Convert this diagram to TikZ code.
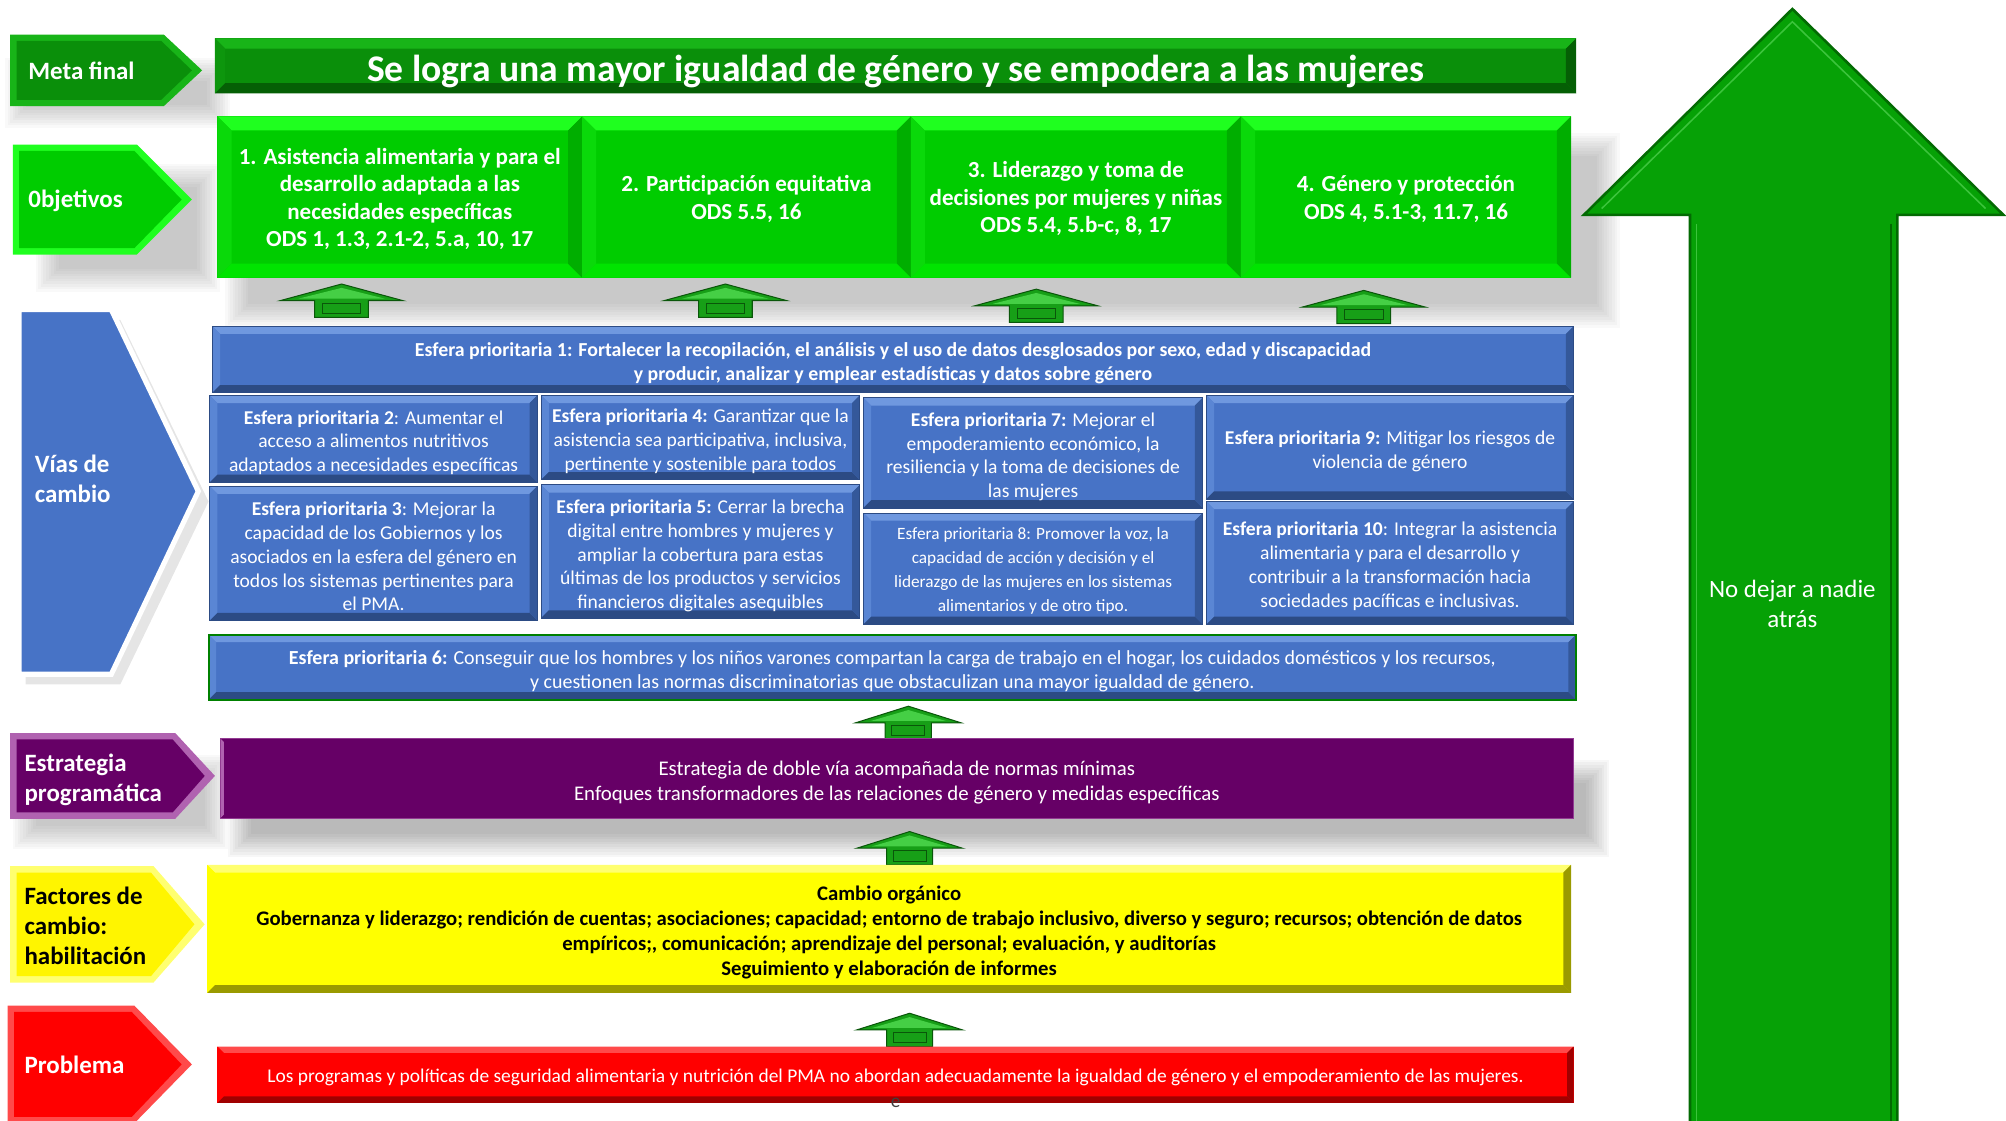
\documentclass[tikz,border=0pt]{standalone}
\usepackage{fontspec}
\setmainfont{Carlito}
\definecolor{dg}{HTML}{0A8F0A}
\definecolor{dgl}{HTML}{18B418}
\definecolor{dgd}{HTML}{055F05}
\definecolor{bg}{HTML}{00CC00}
\definecolor{bgl}{HTML}{1FFF1F}
\definecolor{bgb}{HTML}{00E400}
\definecolor{bgs}{HTML}{0AD90A}
\definecolor{bgr}{HTML}{00AE00}
\definecolor{bl}{HTML}{4773C6}
\definecolor{bll}{HTML}{6F98DF}
\definecolor{bls}{HTML}{5A86D4}
\definecolor{blr}{HTML}{34589A}
\definecolor{bld}{HTML}{2C4B84}
\definecolor{pu}{HTML}{660066}
\definecolor{pul}{HTML}{B062B0}
\definecolor{ye}{HTML}{FFFF00}
\definecolor{yel}{HTML}{FFFF70}
\definecolor{yed}{HTML}{9A9A00}
\definecolor{rd}{HTML}{FF0000}
\definecolor{rdl}{HTML}{FF4A4A}
\definecolor{rdd}{HTML}{A00000}
\definecolor{bigg}{HTML}{06A106}
\definecolor{biggd}{HTML}{036A03}
\definecolor{biggl}{HTML}{3CC43C}
\definecolor{ag}{HTML}{179F17}
\definecolor{agl}{HTML}{45CF45}
\definecolor{agd}{HTML}{0A560A}
\newcommand\lblarrow[7]{%
  \fill[#6] (#1,#2) -- (#3,#2) -- (#4,{(#2+#5)/2}) -- (#3,#5) -- (#1,#5) -- cycle;
  \fill[#7] (#1+5,#2+5) -- (#3-2,#2+5) -- (#4-8,{(#2+#5)/2}) -- (#3-2,#5-5) -- (#1+5,#5-5) -- cycle;
}
\newcommand\softshadow[5]{%
  \foreach \r in {0,2,...,18} {\fill[black,opacity=#5] (#1+\r,#2+\r) rectangle (#3-\r,#4-\r);}
}
\begin{document}
\begin{tikzpicture}[x=1pt,y=-1pt,
  bevel/.style n args={6}{fill=#1, path picture={
    \fill[#2] (path picture bounding box.north west) -- (path picture bounding box.north east)
       -- ([shift={(-#6pt,-#6pt)}]path picture bounding box.north east)
       -- ([shift={(#6pt,-#6pt)}]path picture bounding box.north west) -- cycle;
    \fill[#3] (path picture bounding box.north west) -- (path picture bounding box.south west)
       -- ([shift={(#6pt,#6pt)}]path picture bounding box.south west)
       -- ([shift={(#6pt,-#6pt)}]path picture bounding box.north west) -- cycle;
    \fill[#5] (path picture bounding box.south west) -- (path picture bounding box.south east)
       -- ([shift={(-#6pt,#6pt)}]path picture bounding box.south east)
       -- ([shift={(#6pt,#6pt)}]path picture bounding box.south west) -- cycle;
    \fill[#4] (path picture bounding box.north east) -- (path picture bounding box.south east)
       -- ([shift={(-#6pt,#6pt)}]path picture bounding box.south east)
       -- ([shift={(-#6pt,-#6pt)}]path picture bounding box.north east) -- cycle;
  }},
  box/.style={inner sep=0pt},
  tx/.style={inner sep=0pt, align=center, text=white},
  bbox/.style={box, bevel={bl}{bll}{bls}{blr}{bld}{6}, draw=bld, line width=0.6pt},
  btx/.style={tx, font=\fontsize{15.3}{18.6}\selectfont},
  obox/.style={box, bevel={bg}{bgl}{bgs}{bgr}{bgb}{11}},
  otx/.style={tx, font=\bfseries\fontsize{18}{21.5}\selectfont},
  lbl/.style={inner sep=0pt, align=left, anchor=west, text=white, font=\bfseries\fontsize{19.5}{23.5}\selectfont},
  uparr/.pic={
    \filldraw[fill=ag, draw=agd, line width=0.8pt] (0,0) -- (48,13) -- (21,13) -- (21,26) -- (-21,26) -- (-21,13) -- (-48,13) -- cycle;
    \fill[agl] (0,3) -- (34,11.5) -- (-34,11.5) -- cycle;
    \draw[agd, line width=0.6pt] (-15,15) rectangle (15,23);
  }
]
\useasboundingbox (0,0) rectangle (1568,876);
\clip (0,0) rectangle (1568,876);

% ---------- shadows ----------
\softshadow{176}{104}{1266}{256}{0.022}
\softshadow{178}{594}{1258}{670}{0.03}
\softshadow{4}{45}{180}{100}{0.022}
\softshadow{28}{128}{172}{228}{0.022}
\softshadow{10}{590}{178}{664}{0.025}

% ---------- big arrow ----------
\filldraw[fill=bigg, draw=biggd, line width=2pt]
  (1401,7) -- (1566,168) -- (1483,168) -- (1483,890) -- (1321,890) -- (1321,168) -- (1238,168) -- cycle;
\draw[biggl, line width=1.2pt] (1252,163) -- (1401,17) -- (1552,163);
\draw[biggl, line width=1.2pt] (1326,175) -- (1326,890);
\draw[biggd, line width=1.6pt] (1478,175) -- (1478,890);
\node[tx, font=\fontsize{19.5}{23.5}\selectfont] (nodejar) at (1401,472) {No dejar a nadie\\atrás};

% ---------- left labels ----------
\lblarrow{8}{27}{128}{158}{83}{dgl}{dg}
\node[lbl] (lmeta) at (22,55) {Meta final};
\lblarrow{10}{113}{107}{150}{199}{bgl}{bg}
\node[lbl] (lobj) at (22,157) {0bjetivos};
\fill[black,opacity=0.10] (20,250) -- (94,250) -- (163,392) -- (94,535) -- (20,535) -- cycle;
\filldraw[fill=bl, draw=white, line width=4pt] (15,242) -- (87,242) -- (155,384) -- (87,527) -- (15,527) -- cycle;
\node[lbl] (lvias) at (27,374) {Vías de\\cambio};
\lblarrow{8}{573}{137}{168}{640}{pul}{pu}
\node[lbl] (lestr) at (19,609.5) {Estrategia\\programática};
\lblarrow{8}{677}{120}{160}{768}{yel}{ye!92!orange}
\node[lbl, text=black] (lfact) at (19,723.5) {Factores de\\cambio:\\habilitación};
\lblarrow{6}{786}{105}{150}{878}{rdl}{rd}
\node[lbl] (lprob) at (19,832) {Problema};

% ---------- title ----------
\node[box, bevel={dg}{dgl}{dg!80!dgl}{dgd}{dgd}{8}, minimum width=1064, minimum height=43] (title) at (700,51.5) {};
\node[tx, font=\bfseries\fontsize{29.4}{34}\selectfont] (titlet) at ([yshift=-4.5pt]title.center)
  {Se logra una mayor igualdad de género y se empodera a las mujeres};

% ---------- objectives ----------
\node[obox, minimum width=285, minimum height=126] (o1) at (312.5,154) {};
\node[otx] (o1t) at ([yshift=-1.5pt]o1.center)
  {1. Asistencia alimentaria y para el\\desarrollo adaptada a las\\necesidades específicas\\ODS 1, 1.3, 2.1-2, 5.a, 10, 17};
\node[obox, minimum width=257, minimum height=126] (o2) at (583.5,154) {};
\node[otx] (o2t) at ([yshift=-1.5pt]o2.center) {2. Participación equitativa\\ODS 5.5, 16};
\node[obox, minimum width=258, minimum height=126] (o3) at (841,154) {};
\node[otx] (o3t) at ([yshift=-1.5pt]o3.center) {3. Liderazgo y toma de\\decisiones por mujeres y niñas\\ODS 5.4, 5.b-c, 8, 17};
\node[obox, minimum width=258, minimum height=126] (o4) at (1099,154) {};
\node[otx] (o4t) at ([yshift=-1.5pt]o4.center) {4. Género y protección\\ODS 4, 5.1-3, 11.7, 16};

\pic at (267,222) {uparr};
\pic at (567,222) {uparr};
\pic at (810,226) {uparr};
\pic at (1066,227) {uparr};

% ---------- esferas ----------
\node[bbox, minimum width=1064, minimum height=52] (e1) at (698,281) {};
\node[btx, font=\bfseries\fontsize{15.5}{19}\selectfont] (e1t) at ([yshift=-3pt]e1.center)
  {Esfera prioritaria 1: Fortalecer la recopilación, el análisis y el uso de datos desglosados por sexo, edad y discapacidad\\y producir, analizar y emplear estadísticas y datos sobre género};
\node[bbox, minimum width=256, minimum height=68] (e2) at (292,343) {};
\node[btx] (e2t) at ([yshift=-3pt]e2.center)
  {\textbf{Esfera prioritaria 2}: Aumentar el\\acceso a alimentos nutritivos\\adaptados a necesidades específicas};
\node[bbox, minimum width=256, minimum height=105] (e3) at (292,432.5) {};
\node[btx] (e3t) at ([yshift=-2.5pt]e3.center)
  {\textbf{Esfera prioritaria 3}: Mejorar la\\capacidad de los Gobiernos y los\\asociados en la esfera del género en\\todos los sistemas pertinentes para\\el PMA.};
\node[bbox, minimum width=249, minimum height=66] (e4) at (547.5,342) {};
\node[btx] (e4t) at ([yshift=-3pt]e4.center)
  {\textbf{Esfera prioritaria 4:} Garantizar que la\\asistencia sea participativa, inclusiva,\\pertinente y sostenible para todos};
\node[bbox, minimum width=249, minimum height=104] (e5) at (547.5,431) {};
\node[btx] (e5t) at ([yshift=-3.5pt]e5.center)
  {\textbf{Esfera prioritaria 5:} Cerrar la brecha\\digital entre hombres y mujeres y\\ampliar la cobertura para estas\\últimas de los productos y servicios\\financieros digitales asequibles};
\node[bbox, minimum width=265, minimum height=86] (e7) at (807.5,354) {};
\node[btx] (e7t) at ([yshift=-3pt]e7.center)
  {\textbf{Esfera prioritaria 7:} Mejorar el\\empoderamiento económico, la\\resiliencia y la toma de decisiones de\\las mujeres};
\node[bbox, minimum width=265, minimum height=87] (e8) at (807.5,444.5) {};
\node[btx, font=\fontsize{13.5}{18.7}\selectfont] (e8t) at ([yshift=-2pt]e8.center)
  {Esfera prioritaria 8: Promover la voz, la\\capacidad de acción y decisión y el\\liderazgo de las mujeres en los sistemas\\alimentarios y de otro tipo.};
\node[bbox, minimum width=287, minimum height=81] (e9) at (1086.5,349.5) {};
\node[btx] (e9t) at ([yshift=-3pt]e9.center)
  {\textbf{Esfera prioritaria 9:} Mitigar los riesgos de\\violencia de género};
\node[bbox, minimum width=287, minimum height=96] (e10) at (1086.5,440) {};
\node[btx] (e10t) at ([yshift=-2.5pt]e10.center)
  {\textbf{Esfera prioritaria 10}: Integrar la asistencia\\alimentaria y para el desarrollo y\\contribuir a la transformación hacia\\sociedades pacíficas e inclusivas.};
\node[bbox, draw=green!50!black, line width=1.6pt, minimum width=1069, minimum height=51] (e6) at (697.5,521.5) {};
\node[btx, font=\fontsize{15.6}{19}\selectfont] (e6t) at ([yshift=-3pt]e6.center)
  {\textbf{Esfera prioritaria 6:} Conseguir que los hombres y los niños varones compartan la carga de trabajo en el hogar, los cuidados domésticos y los recursos,\\y cuestionen las normas discriminatorias que obstaculizan una mayor igualdad de género.};

\pic[xscale=0.86] at (710,552) {uparr};

% ---------- strategy ----------
\node[box, bevel={pu}{pu}{pul}{pu}{pu}{3}, draw=pul!60!pu, line width=0.6pt, minimum width=1058, minimum height=63] (estr) at (701,608.5) {};
\node[tx, font=\fontsize{16.3}{19.5}\selectfont] (estrt) at ([yshift=-3pt]estr.center)
  {Estrategia de doble vía acompañada de normas mínimas\\Enfoques transformadores de las relaciones de género y medidas específicas};

\pic[xscale=0.86] at (711,650) {uparr};

% ---------- enablers ----------
\node[box, bevel={ye}{yel}{ye}{yed}{yed}{6}, minimum width=1066, minimum height=100] (fact) at (695,726) {};
\node[tx, text=black, font=\bfseries\fontsize{16.2}{19.7}\selectfont] (factt) at ([yshift=-3pt]fact.center)
  {Cambio orgánico\\Gobernanza y liderazgo; rendición de cuentas; asociaciones; capacidad; entorno de trabajo inclusivo, diverso y seguro; recursos; obtención de datos\\empíricos;, comunicación; aprendizaje del personal; evaluación, y auditorías\\Seguimiento y elaboración de informes};

\pic[xscale=0.86] at (711,792) {uparr};

% ---------- problem ----------
\node[box, bevel={rd}{rdl}{rd}{rdd}{rdd}{5}, minimum width=1060, minimum height=44] (prob) at (700,840) {};
\node[tx, font=\fontsize{15.2}{18}\selectfont] (probt) at ([yshift=-2.5pt]prob.center)
  {Los programas y políticas de seguridad alimentaria y nutrición del PMA no abordan adecuadamente la igualdad de género y el empoderamiento de las mujeres.};
\node[inner sep=0pt, anchor=base, text=black!75, font=\fontsize{15}{18}\selectfont] (probe) at (700,866) {e};
\end{tikzpicture}
\end{document}
